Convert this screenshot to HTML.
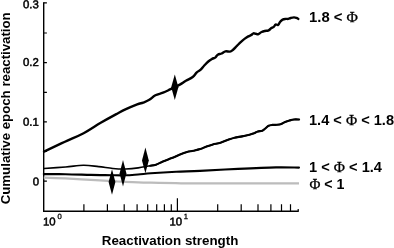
<!DOCTYPE html>
<html>
<head>
<meta charset="utf-8">
<title>Cumulative epoch reactivation</title>
<style>
html,body{margin:0;padding:0;background:#fff;}
body{width:394px;height:248px;overflow:hidden;}
svg{display:block;}
text{font-family:"Liberation Sans",sans-serif;fill:#000;}
.phi{font-family:"Liberation Serif",serif;font-weight:normal;font-size:15px;stroke:#000;stroke-width:0.3px;}
.tk{font-size:11.4px;stroke:#000;stroke-width:0.5px;}
.sup{font-size:7.6px;stroke:#000;stroke-width:0.3px;}
.lab{font-size:14.3px;font-weight:bold;}
.ax{font-size:12.3px;font-weight:bold;}
</style>
</head>
<body>
<svg width="394" height="248" viewBox="0 0 394 248">
<rect width="394" height="248" fill="#fff"/>
<!-- axes -->
<path d="M43.7 2.3V211.2H298.8" stroke="#000" stroke-width="1.4" fill="none"/>
<g stroke="#000" stroke-width="1.2" fill="none">
<path d="M43.7 2.9h3.2M43.7 33h3.2M43.7 62.6h3.2M43.7 92.3h3.2M43.7 121.9h3.2M43.7 151.5h3.2M43.7 181.2h3.2"/>
<path d="M83.9 204.2v7M107.4 204.2v7M124.2 204.2v7M137.1 204.2v7M147.7 204.2v7M156.7 204.2v7M164.4 204.2v7M171.3 204.2v7M217.7 204.2v7M241.2 204.2v7M258.0 204.2v7M270.9 204.2v7M281.5 204.2v7M290.5 204.2v7M177.4 198.2v13M298.2 209v2"/>
</g>
<!-- gray curve -->
<path d="M43.8 177.6C47.4 177.7 57.6 178.0 65.4 178.4C73.2 178.8 82.4 179.4 90.8 179.9C99.2 180.4 110.2 181.1 116.0 181.4C121.8 181.7 119.6 181.6 125.4 181.8C131.2 182.0 142.4 182.5 150.8 182.7C159.2 182.9 167.8 183.1 176.0 183.2C184.2 183.3 179.5 183.4 200.0 183.4C220.5 183.4 282.5 183.4 299.0 183.4" stroke="#bcbcbc" stroke-width="2.2" fill="none"/>
<!-- curves -->
<g stroke="#000" fill="none" stroke-linejoin="round" stroke-linecap="round">
<path d="M43.8 174.1C47.4 174.1 57.6 174.1 65.4 174.2C73.2 174.3 83.0 174.7 90.8 174.9C98.6 175.1 106.2 175.1 112.0 175.2C117.8 175.3 121.1 175.4 125.4 175.3C129.7 175.2 133.8 174.8 138.0 174.5C142.2 174.2 144.5 173.8 150.8 173.3C157.2 172.8 167.9 172.1 176.1 171.7C184.3 171.3 189.7 171.4 200.0 170.9C210.3 170.4 225.3 169.5 238.0 168.9C250.7 168.3 265.8 167.6 276.0 167.4C286.2 167.2 295.2 167.6 299.0 167.6" stroke-width="2.1"/>
<path d="M44.0 168.5C47.6 168.2 59.1 167.5 65.6 167.0C72.2 166.5 77.8 165.4 83.3 165.3C88.8 165.2 93.7 166.1 98.6 166.6C103.5 167.1 108.4 168.1 112.9 168.5C117.4 168.9 121.4 169.1 125.6 169.0C129.8 168.9 134.1 168.5 138.2 167.9C142.3 167.3 147.2 166.2 150.2 165.7C153.1 165.2 153.8 165.4 155.9 164.7C158.0 164.0 160.2 162.6 162.9 161.5C165.5 160.4 169.0 159.2 171.8 158.1C174.5 157.0 176.9 155.8 179.4 154.8C181.9 153.8 184.7 152.7 187.0 152.0C189.3 151.3 191.1 151.3 193.3 150.8C195.5 150.3 198.0 149.8 200.2 149.1C202.4 148.4 204.4 147.3 206.5 146.5C208.6 145.7 210.6 145.0 212.9 144.4C215.2 143.8 218.0 143.5 220.5 142.7C223.0 141.9 225.8 140.6 228.1 139.8C230.4 139.0 232.2 138.3 234.5 137.7C236.8 137.1 239.5 136.9 242.1 136.4C244.7 135.9 248.2 135.0 250.2 134.5C252.2 134.0 252.7 133.7 254.0 133.2C255.3 132.7 256.4 131.9 257.8 131.5C259.2 131.1 261.0 131.2 262.3 130.7C263.6 130.2 264.3 129.2 265.4 128.4C266.4 127.6 267.4 126.4 268.6 125.8C269.8 125.2 271.0 125.1 272.4 124.9C273.8 124.7 275.3 125.0 276.8 124.8C278.3 124.6 279.9 124.4 281.3 123.9C282.7 123.4 283.7 122.6 285.1 122.0C286.5 121.4 288.0 120.9 289.5 120.5C291.0 120.1 292.4 119.7 294.0 119.5C295.6 119.3 298.2 119.5 299.1 119.5" stroke-width="1.6"/>
<path d="M150.2 165.7C151.1 165.5 153.8 165.4 155.9 164.7C158.0 164.0 160.2 162.6 162.9 161.5C165.5 160.4 169.0 159.2 171.8 158.1C174.5 157.0 176.9 155.8 179.4 154.8C181.9 153.8 184.7 152.7 187.0 152.0C189.3 151.3 191.1 151.3 193.3 150.8C195.5 150.3 198.0 149.8 200.2 149.1C202.4 148.4 204.4 147.3 206.5 146.5C208.6 145.7 210.6 145.0 212.9 144.4C215.2 143.8 218.0 143.5 220.5 142.7C223.0 141.9 225.8 140.6 228.1 139.8C230.4 139.0 232.2 138.3 234.5 137.7C236.8 137.1 239.5 136.9 242.1 136.4C244.7 135.9 248.2 135.0 250.2 134.5C252.2 134.0 252.7 133.7 254.0 133.2C255.3 132.7 256.4 131.9 257.8 131.5C259.2 131.1 261.0 131.2 262.3 130.7C263.6 130.2 264.3 129.2 265.4 128.4C266.4 127.6 267.4 126.4 268.6 125.8C269.8 125.2 271.0 125.1 272.4 124.9C273.8 124.7 275.3 125.0 276.8 124.8C278.3 124.6 279.9 124.4 281.3 123.9C282.7 123.4 283.7 122.6 285.1 122.0C286.5 121.4 288.0 120.9 289.5 120.5C291.0 120.1 292.4 119.7 294.0 119.5C295.6 119.3 298.2 119.5 299.1 119.5" stroke-width="2.1"/>
<path d="M44.0 151.6C48.1 149.7 56.5 145.7 64.4 142.0C72.3 138.3 76.3 137.0 83.6 133.2C90.9 129.4 94.2 126.6 100.7 122.8C107.2 119.0 111.1 116.9 116.3 114.1C121.5 111.3 122.3 110.8 126.5 108.9C130.7 107.0 133.9 105.7 137.2 104.4C140.5 103.1 140.8 103.5 143.2 102.6C145.6 101.7 146.9 101.3 149.3 99.8C151.7 98.3 152.7 96.7 155.4 95.3C158.1 93.9 160.0 93.9 163.0 92.7C166.0 91.5 167.2 90.8 170.6 89.2C174.0 87.6 176.7 86.3 179.8 84.6C182.9 82.9 183.3 82.3 185.9 80.8C188.5 79.3 190.5 78.7 192.7 77.0C194.9 75.3 195.2 73.9 196.8 72.4C198.4 70.9 199.2 71.1 200.7 69.7C202.2 68.3 203.0 66.9 204.5 65.3C206.0 63.7 206.8 62.8 208.3 61.5C209.8 60.2 210.7 59.7 212.1 58.9C213.5 58.1 214.1 58.4 215.2 57.6C216.3 56.8 216.5 55.5 217.8 54.7C219.1 53.9 220.2 54.2 221.7 53.5C223.2 52.8 223.9 51.8 225.5 51.4C227.1 51.0 228.4 51.9 229.9 51.6C231.4 51.3 231.7 50.8 233.1 49.7C234.5 48.6 235.4 47.4 236.9 45.9C238.4 44.4 239.2 43.5 240.7 42.1C242.2 40.7 243.0 40.0 244.5 38.9C246.0 37.8 246.9 37.2 248.3 36.4C249.7 35.6 250.5 35.5 251.5 34.9C252.5 34.3 252.5 33.5 253.4 33.3C254.3 33.1 254.9 33.6 255.9 33.8C256.9 34.0 257.3 34.6 258.4 34.2C259.5 33.8 260.3 32.6 261.6 32.0C262.9 31.4 263.4 31.3 264.8 31.0C266.2 30.7 267.3 30.9 268.6 30.3C269.9 29.7 270.1 28.9 271.1 28.2C272.1 27.5 272.8 27.6 273.7 26.9C274.6 26.2 274.7 25.0 275.6 24.6C276.5 24.2 277.2 25.4 278.1 24.9C279.0 24.4 279.1 23.2 280.0 22.1C280.9 21.0 281.5 20.2 282.6 19.6C283.7 19.0 284.6 19.0 285.7 18.9C286.8 18.8 287.3 19.1 288.3 18.9C289.3 18.7 289.7 18.3 290.8 18.0C291.9 17.7 292.9 17.4 294.0 17.4C295.1 17.4 295.6 17.6 296.5 17.9C297.4 18.2 297.9 18.7 298.3 18.9" stroke-width="2.4"/>
</g>
<!-- markers -->
<g fill="#000">
<path d="M174.8 74.5L178.4 87.3L174.8 100.1L171.20000000000002 87.3z"/>
<path d="M145.4 147.5L148.8 160.4L145.4 173.3L142.0 160.4z"/>
<path d="M123 160L126.4 173.2L123 186.4L119.6 173.2z"/>
<path d="M112 169.2L115.4 182.0L112 194.8L108.6 182.0z"/>
</g>
<!-- tick labels -->
<text class="tk" transform="translate(23 8.2) rotate(0.05)">0.3</text>
<text class="tk" transform="translate(23 66.1) rotate(0.05)">0.2</text>
<text class="tk" transform="translate(23 125.8) rotate(0.05)">0.1</text>
<text class="tk" transform="translate(32.7 185.5) rotate(0.05)">0</text>
<text class="tk" transform="translate(43 225.5) rotate(0.05)">10</text><text class="sup" transform="translate(57.4 218.9) rotate(0.05)">0</text>
<text class="tk" transform="translate(169.4 225.5) rotate(0.05)">10</text><text class="sup" transform="translate(183.7 219.1) rotate(0.05)">1</text>
<!-- axis labels -->
<text class="ax" x="101.8" y="244.8" textLength="136.5" lengthAdjust="spacingAndGlyphs">Reactivation strength</text>
<text class="ax" transform="translate(9.5 204.3) rotate(-90)" textLength="192" lengthAdjust="spacingAndGlyphs">Cumulative epoch reactivation</text>
<!-- curve labels -->
<text class="lab" x="309" y="21.6" textLength="49" lengthAdjust="spacingAndGlyphs">1.8 &lt; <tspan class="phi">Φ</tspan></text>
<text class="lab" x="309" y="124.6" textLength="85" lengthAdjust="spacingAndGlyphs">1.4 &lt; <tspan class="phi">Φ</tspan> &lt; 1.8</text>
<text class="lab" x="309" y="172" textLength="73" lengthAdjust="spacingAndGlyphs">1 &lt; <tspan class="phi">Φ</tspan> &lt; 1.4</text>
<text class="lab" x="309.5" y="189.3" textLength="35" lengthAdjust="spacingAndGlyphs"><tspan class="phi">Φ</tspan> &lt; 1</text>
</svg>
</body>
</html>
